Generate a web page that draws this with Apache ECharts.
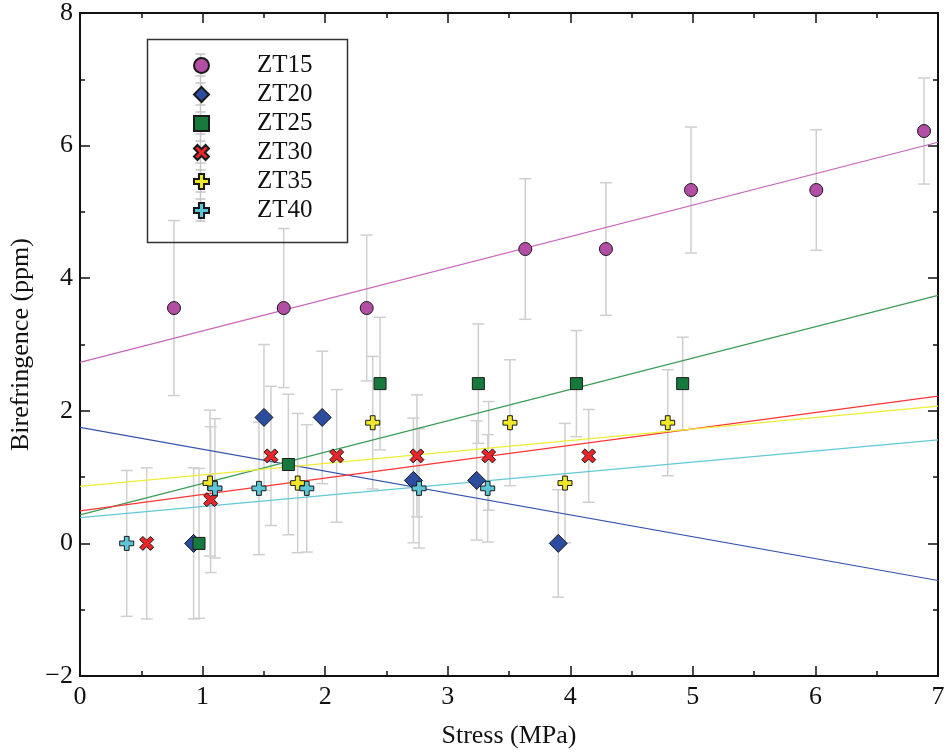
<!DOCTYPE html>
<html><head><meta charset="utf-8">
<script src="https://cdn.jsdelivr.net/npm/echarts@6/dist/echarts.min.js"></script>
<style>html,body{margin:0;padding:0;background:#fff}#c{width:948px;height:755px}</style>
</head><body><div id="c"></div>
<script>
const seriesNames = ['ZT15','ZT20','ZT25','ZT30','ZT35','ZT40'];
const zt15X = [0.767,1.662,2.339,3.633,4.291,4.985,6.007,6.886];
const zt15Y = [3.55,3.55,3.55,4.44,4.44,5.33,5.33,6.22];
const zt15Err = [1.32,1.20,1.10,1.06,1.00,0.95,0.91,0.80];
const zt20X = [0.927,1.501,1.976,2.720,3.236,3.902];
const zt20Y = [0,1.90,1.90,0.95,0.95,0];
const zt20Err = [1.14,1.10,1.00,0.94,0.90,0.81];
const zt25X = [0.971,1.700,2.448,3.250,4.050,4.917];
const zt25Y = [0,1.19,2.41,2.41,2.41,2.41];
const zt25Err = [1.13,1.06,1.00,0.90,0.80,0.70];
const zt30X = [0.544,1.066,1.558,2.094,2.749,3.334,4.150];
const zt30Y = [0,0.66,1.32,1.32,1.32,1.32,1.32];
const zt30Err = [1.14,1.10,1.05,1.00,0.92,0.82,0.70];
const zt35X = [1.061,1.776,2.388,3.508,3.957,4.795];
const zt35Y = [0.91,0.91,1.82,1.82,0.91,1.82];
const zt35Err = [1.10,1.05,1.00,0.95,0.90,0.80];
const zt40X = [0.381,1.101,1.460,1.850,2.766,3.326];
const zt40Y = [0,0.83,0.83,0.83,0.83,0.83];
const zt40Err = [1.10,1.05,1.00,0.96,0.90,0.81];
// fitted lines: value at stress 0 and at stress 7
const fitX = [0,7];
const fitStart = [2.73,1.75,0.43,0.49,0.86,0.39];
const fitEnd = [6.05,-0.56,3.74,2.22,2.07,1.56];

const xs=[zt15X,zt20X,zt25X,zt30X,zt35X,zt40X];
const ys=[zt15Y,zt20Y,zt25Y,zt30Y,zt35Y,zt40Y];
const es=[zt15Err,zt20Err,zt25Err,zt30Err,zt35Err,zt40Err];
const fillColors=['#b24fa4','#2c4c9e','#167a3c','#e8262a','#f0e62a','#5cc6d6'];
const lineColors=['#c963b8','#3553ad','#3d9d55','#ff3535','#eeee35','#62c8d6'];
const plusPath='path://M3.3,0 H6.7 V3.3 H10 V6.7 H6.7 V10 H3.3 V6.7 H0 V3.3 H3.3 Z';
const crossPath='path://M0,2.3 L2.3,0 L5,2.7 L7.7,0 L10,2.3 L7.3,5 L10,7.7 L7.7,10 L5,7.3 L2.3,10 L0,7.7 L2.7,5 Z';
const symbols=['circle','diamond','rect',crossPath,plusPath,plusPath];
const sizes=[13,18,12,14,14,14];
const FONT='Liberation Serif';

const series=[];
seriesNames.forEach((n,i)=>{
  series.push({type:'custom',name:n+'err',z:1,silent:true,
    data:xs[i].map((x,j)=>[x,ys[i][j]-es[i][j],ys[i][j]+es[i][j]]),
    renderItem:(p,api)=>{
      const a=api.coord([api.value(0),api.value(1)]);
      const b=api.coord([api.value(0),api.value(2)]);
      const w=6;const st={stroke:'#cfcfcf',lineWidth:1.5};
      return {type:'group',children:[
        {type:'line',shape:{x1:a[0],y1:a[1],x2:b[0],y2:b[1]},style:st},
        {type:'line',shape:{x1:a[0]-w,y1:a[1],x2:a[0]+w,y2:a[1]},style:st},
        {type:'line',shape:{x1:b[0]-w,y1:b[1],x2:b[0]+w,y2:b[1]},style:st}]};
    }});
});
seriesNames.forEach((n,i)=>{
  series.push({type:'line',name:n+'fit',z:2,silent:true,showSymbol:false,
    data:[[fitX[0],fitStart[i]],[fitX[1],fitEnd[i]]],
    lineStyle:{color:lineColors[i],width:1.2}});
});
seriesNames.forEach((n,i)=>{
  series.push({type:'scatter',name:n,z:3,symbol:symbols[i],symbolSize:sizes[i],
    data:xs[i].map((x,j)=>[x,ys[i][j]]),
    itemStyle:{color:fillColors[i],borderColor:'#1a1a1a',borderWidth:1,opacity:1}});
});

const axisCommon={axisLine:{onZero:false,lineStyle:{color:'#111',width:2}},
  axisTick:{inside:true,length:10,lineStyle:{color:'#111',width:1.5}},
  minorTick:{show:true,splitNumber:2,length:5,lineStyle:{color:'#111',width:1.5}},
  splitLine:{show:false}};

// legend error-bar decorations
const legendBars=[];
const lgX=200.5, lgRows=[65,94,123,152,181,210];
const barStyle={stroke:'#c4c4c4',lineWidth:1.5};
legendBars.push({type:'line',z:1,shape:{x1:lgX,y1:54,x2:lgX,y2:222},style:barStyle});
lgRows.forEach(r=>{
  [r-11,r+11].forEach(yy=>legendBars.push({type:'line',z:1,shape:{x1:lgX-5,y1:yy,x2:lgX+5,y2:yy},style:barStyle}));
});

const chart=echarts.init(document.getElementById('c'),null,{renderer:'canvas'});
chart.setOption({
  animation:false,
  backgroundColor:'#fff',
  grid:{left:80,right:10,top:10,bottom:79},
  xAxis:[
    Object.assign({type:'value',min:0,max:7,interval:1,position:'bottom',
      name:'Stress (MPa)',nameLocation:'middle',nameGap:47,
      nameTextStyle:{fontFamily:FONT,fontSize:26,color:'#111'},
      axisLabel:{fontFamily:FONT,fontSize:26,color:'#111',margin:8}},axisCommon),
    Object.assign({type:'value',min:0,max:7,interval:1,position:'top',axisLabel:{show:false}},axisCommon)
  ],
  yAxis:[
    Object.assign({type:'value',min:-2,max:8,interval:2,position:'left',
      name:'Birefringence (ppm)',nameLocation:'middle',nameGap:42,
      nameTextStyle:{fontFamily:FONT,fontSize:26,color:'#111'},
      axisLabel:{fontFamily:FONT,fontSize:26,color:'#111',margin:7,
        formatter:v=>String(v).replace('-','\u2212')}},axisCommon),
    Object.assign({type:'value',min:-2,max:8,interval:2,position:'right',axisLabel:{show:false}},axisCommon)
  ],
  legend:{data:seriesNames,orient:'vertical',left:193,top:53,padding:0,z:5,
    itemWidth:15,itemHeight:15,itemGap:4,
    formatter:n=>'{t|'+n+'}',
    textStyle:{fontFamily:FONT,fontSize:25,color:'#111',
      rich:{t:{fontFamily:FONT,fontSize:25,color:'#111',lineHeight:25,padding:[0,0,0,43]}}}},
  graphic:[{type:'rect',left:145,top:37,shape:{width:200,height:203},
    style:{fill:'none',stroke:'#333',lineWidth:1.5},z:10}].concat(legendBars),
  series:series
});
</script></body></html>
